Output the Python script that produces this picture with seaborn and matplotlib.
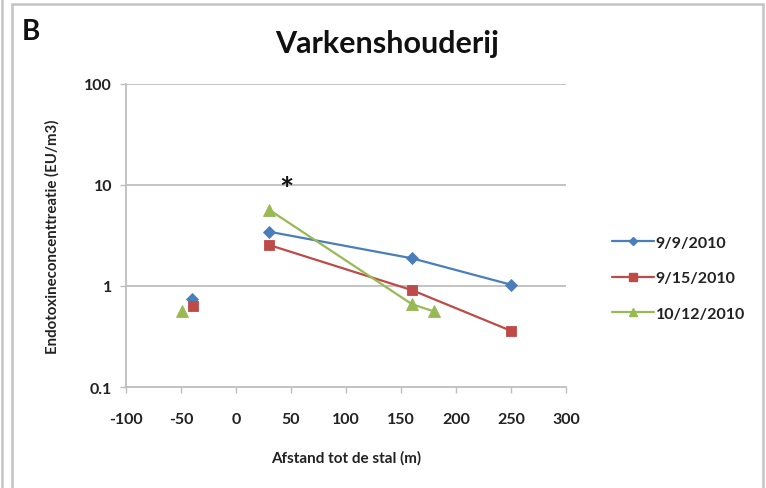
import matplotlib
matplotlib.use("Agg")
import matplotlib.pyplot as plt
import matplotlib.patches as mpatches
from matplotlib.lines import Line2D
import seaborn as sns
import pandas as pd

# Measurements per sampling date: distance to the barn (m) and endotoxin concentration
dates = ["9/9/2010", "9/15/2010", "10/12/2010"]
dist_0909 = [-40, 30, 160, 250]
conc_0909 = [0.75, 3.45, 1.88, 1.03]
dist_0915 = [-39, 30, 160, 250]
conc_0915 = [0.64, 2.55, 0.91, 0.36]
dist_1012 = [-49, 30, 160, 180]
conc_1012 = [0.57, 5.7, 0.66, 0.56]
# upwind point (negative distance) is a separate segment, not joined to the others
segment = [0, 1, 1, 1]

star_x, star_y = 46, 11.0

colors = {"9/9/2010": "#4A7EBB", "9/15/2010": "#BE4B48", "10/12/2010": "#98B954"}
markers = {"9/9/2010": "D", "9/15/2010": "s", "10/12/2010": "^"}
msize = {"9/9/2010": 6.5, "9/15/2010": 7.5, "10/12/2010": 8}

rows = []
for d, xs, ys in [(dates[0], dist_0909, conc_0909),
                  (dates[1], dist_0915, conc_0915),
                  (dates[2], dist_1012, conc_1012)]:
    for x, y, s in zip(xs, ys, segment):
        rows.append({"date": d, "afstand": x, "conc": y, "seg": f"{d}-{s}"})
df = pd.DataFrame(rows)

sns.set_theme(style="white")
font = ["Lato", "DejaVu Sans"]
plt.rcParams["font.family"] = font
plt.rcParams["axes.unicode_minus"] = False

fig = plt.figure(figsize=(7.66, 4.89), dpi=100)
W, H = 766, 489
ax = fig.add_axes([126 / W, 1 - 388 / H, (566 - 126) / W, (388 - 85) / H])

for d in dates:
    sub = df[df["date"] == d]
    sns.lineplot(data=sub, x="afstand", y="conc", units="seg", estimator=None,
                 sort=False, color=colors[d], marker=markers[d],
                 markersize=msize[d], markeredgewidth=0.6,
                 markeredgecolor=colors[d], linewidth=1.6, ax=ax, legend=False)

ax.set_yscale("log")
ax.set_ylim(0.1, 100)
ax.set_xlim(-100, 300)
ax.set_xticks(range(-100, 301, 50))
ax.set_xticklabels([str(v) for v in range(-100, 301, 50)])
ax.set_yticks([0.1, 1, 10, 100])
ax.set_yticklabels(["0.1", "1", "10", "100"])
ax.yaxis.set_minor_locator(matplotlib.ticker.NullLocator())

grid_c = "#BEBEBE"
ax.grid(False)
for yv in [1, 10, 100]:
    ax.axhline(yv, color=grid_c, lw=1.3, zorder=0)
for side in ["top", "right"]:
    ax.spines[side].set_visible(False)
for side in ["left", "bottom"]:
    ax.spines[side].set_color(grid_c)
    ax.spines[side].set_linewidth(1.3)
ax.tick_params(axis="both", which="major", direction="out", length=4,
               width=1.0, color=grid_c, labelsize=11.5, labelcolor="#222222",
               pad=6, bottom=True, left=True)
ax.tick_params(axis="x", pad=14)
for lab in ax.get_xticklabels() + ax.get_yticklabels():
    lab.set_fontweight("bold")

ax.set_xlabel("Afstand tot de stal (m)", fontsize=11, fontweight="bold",
              color="#222222", labelpad=17)
ax.set_ylabel("Endotoxineconcenttreatie (EU/m3)", fontsize=10.8,
              fontweight="bold", color="#222222", labelpad=18)

ax.annotate("*", xy=(star_x, star_y), xytext=(0, -7), textcoords="offset points",
            fontsize=24, fontweight="bold", ha="center", va="center",
            color="#111111")

fig.text(387 / W, 1 - 44 / H, "Varkenshouderij", fontsize=22, fontweight="bold",
         ha="center", va="center", color="#111111")
fig.text(22 / W, 1 - 32 / H, "B", fontsize=20, fontweight="bold",
         ha="left", va="center", color="#111111")

handles = [Line2D([0], [0], color=colors[d], marker=markers[d], lw=1.6,
                  markersize=msize[d] * 0.7, markeredgecolor=colors[d])
           for d in dates]
fig.legend(handles, dates, loc="upper left",
           bbox_to_anchor=(598 / W, 1 - 222 / H), frameon=False,
           handlelength=2.6, handletextpad=0.1, labelspacing=1.35,
           prop={"family": font, "size": 11.5, "weight": "bold"},
           labelcolor="#222222")

# chart frame
frame_c = "#C4C4C4"
fig.add_artist(mpatches.Rectangle((12 / W, -0.05), (763 - 12) / W, 1.05 - 5 / H,
                                  transform=fig.transFigure, fill=False,
                                  edgecolor=frame_c, linewidth=1.8))
fig.add_artist(Line2D([2 / W, 2 / W], [0, 1], transform=fig.transFigure,
                      color=frame_c, linewidth=1.8))

fig.savefig("out.png", dpi=100)
